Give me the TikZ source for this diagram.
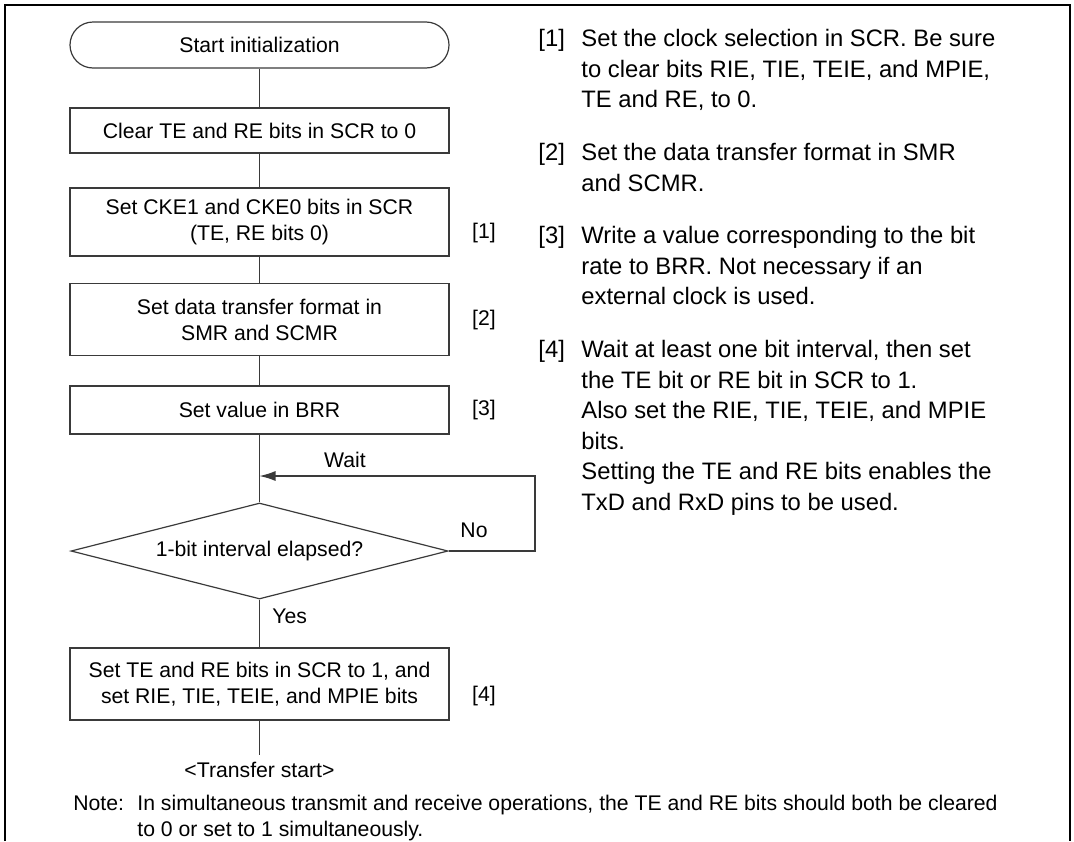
\documentclass[tikz,border=0pt]{standalone}
\usepackage{fontspec}
\setmainfont{Liberation Sans}
\usetikzlibrary{shapes.geometric,arrows.meta}

\definecolor{flowline}{HTML}{3A3A3A}
\newcommand{\boxfont}{\fontsize{10.6}{13}\selectfont}
\newcommand{\itemfont}{\fontsize{11.9}{15.25}\selectfont}
\newcommand{\notefont}{\fontsize{10.6}{12.75}\selectfont}

\begin{document}
\begin{tikzpicture}[x=0.5pt,y=-0.5pt,font=\boxfont,
  stepbox/.style={draw=flowline,line width=0.6pt,minimum width=189.5pt,
    inner sep=0pt,align=center},
  termbox/.style={stepbox,rounded corners=11.5pt},
  decide/.style={diamond,draw=flowline,line width=0.6pt,aspect=3.9,
    minimum width=188.5pt,minimum height=48pt,inner sep=0pt},
  flow/.style={draw=flowline,line width=0.6pt}]
  \useasboundingbox (0,0) rectangle (1074,841);

  % frame, open at the bottom
  \draw[line width=1.3pt] (5,841) -- (5,5) -- (1070,5) -- (1070,841);

  % flowchart
  \node[termbox,minimum height=23pt] (start) at (259.5,45) {Start initialization};
  \node[stepbox,minimum height=22.5pt] (clear) at (259.5,130.5)
    {Clear TE and RE bits in SCR to 0};
  \node[stepbox,minimum height=34pt] (cke) at (259.5,222)
    {Set CKE1 and CKE0 bits in SCR\\(TE, RE bits 0)};
  \node[stepbox,minimum height=36pt] (fmt) at (259.5,319.5)
    {Set data transfer format in\\SMR and SCMR};
  \node[stepbox,minimum height=24pt] (brr) at (259.5,410) {Set value in BRR};
  \node[decide] (elapsed) at (259.5,551) {1-bit interval elapsed?};
  \node[stepbox,minimum height=36pt] (enable) at (259.5,684)
    {Set TE and RE bits in SCR to 1, and\\set RIE, TIE, TEIE, and MPIE bits};
  \node (xfer) at (259.5,770) {<Transfer start>};
  \coordinate (join) at (259.5,476);
  \coordinate (loop) at (535,476);
  \coordinate (xferin) at (259.5,755);

  \draw[flow] (start) -- (clear);
  \draw[flow] (clear) -- (cke);
  \draw[flow] (cke) -- (fmt);
  \draw[flow] (fmt) -- (brr);
  \draw[flow] (brr) -- (elapsed);
  \draw[flow] (elapsed) -- (enable);
  \draw[flow] (enable) -- (xferin);
  \draw[flow,-{Latex[length=8pt,width=5pt]}] (elapsed.east) -| (loop) -- (join);

  \node[anchor=base] (wait) at (345,467) {Wait};
  \node (no) at (474,530) {No};
  \node[anchor=west,inner sep=0pt] (yes) at (272,616) {Yes};
  \foreach \n/\y in {1/233,2/320,3/410,4/696}
    \node (tag\n) at (484,\y) {[\n]};

  % notes on the right
  \begin{scope}[font=\itemfont]
    \foreach \n/\y/\txt in {
      1/29/{Set the clock selection in SCR. Be sure\\to clear bits RIE, TIE, TEIE, and MPIE,\\TE and RE, to 0.},
      2/143/{Set the data transfer format in SMR\\and SCMR.},
      3/226/{Write a value corresponding to the bit\\rate to BRR. Not necessary if an\\external clock is used.},
      4/340/{Wait at least one bit interval, then set\\the TE bit or RE bit in SCR to 1.\\Also set the RIE, TIE, TEIE, and MPIE\\bits.\\Setting the TE and RE bits enables the\\TxD and RxD pins to be used.}} {
      \node[anchor=north west,inner sep=0pt] (num\n) at (538,\y) {[\n]};
      \node[anchor=north west,inner sep=0pt,align=left] (item\n) at (581,\y) {\txt};
    }
  \end{scope}

  % note at the foot
  \node[anchor=north west,inner sep=0pt,font=\notefont] (notehd) at (73,795) {Note:};
  \node[anchor=north west,inner sep=0pt,align=left,font=\notefont] (notebody) at (137,795)
    {In simultaneous transmit and receive operations, the TE and RE bits should both be cleared\\to 0 or set to 1 simultaneously.};
\end{tikzpicture}
\end{document}
